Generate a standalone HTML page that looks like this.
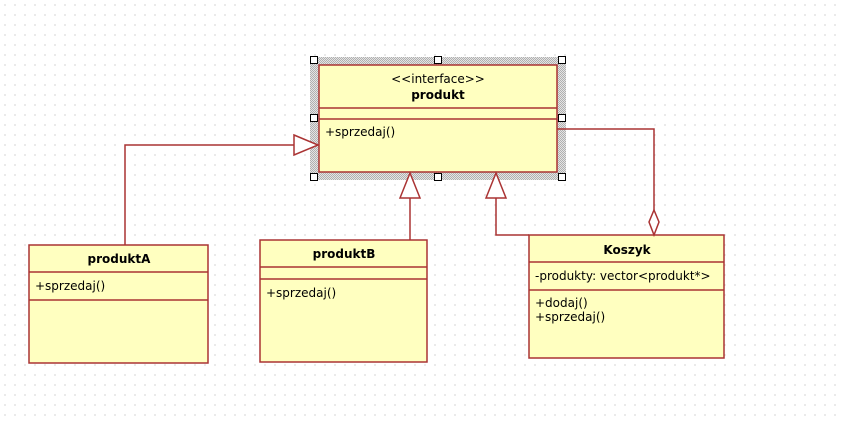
<!DOCTYPE html>
<html><head><style>
body{margin:0;width:841px;height:422px;overflow:hidden;background:#fff;
background-image:radial-gradient(circle,#b8b8b8 0.7px,transparent 0.8px);background-size:10px 10px;background-position:0 0;}
svg{position:absolute;left:0;top:0}
text{font-family:Tahoma,"DejaVu Sans","Liberation Sans",sans-serif;font-size:12px;fill:#000}
.b{font-weight:bold}
</style></head><body>
<svg width="841" height="422">
<defs><pattern id="h" width="2" height="2" patternUnits="userSpaceOnUse"><rect width="2" height="2" fill="#e4e4e4"/><rect width="1" height="1" fill="#b0b0b0"/><rect x="1" y="1" width="1" height="1" fill="#b0b0b0"/></pattern></defs>
<rect x="310" y="57" width="256" height="123" fill="url(#h)"/>
<g fill="#ffffc0" stroke="#a33" stroke-width="1.5">
<rect x="319" y="65" width="238" height="107"/>
<rect x="29" y="245" width="179" height="118"/>
<rect x="260" y="240" width="167" height="122"/>
<rect x="529" y="235" width="195" height="123"/>
</g>
<g stroke="#a33" stroke-width="1.5" fill="none">
<line x1="319" y1="108" x2="557" y2="108"/><line x1="319" y1="119" x2="557" y2="119"/>
<line x1="29" y1="272" x2="208" y2="272"/><line x1="29" y1="300" x2="208" y2="300"/>
<line x1="260" y1="267" x2="427" y2="267"/><line x1="260" y1="279" x2="427" y2="279"/>
<line x1="529" y1="262" x2="724" y2="262"/><line x1="529" y1="290" x2="724" y2="290"/>
<polyline points="125,245 125,145 294,145"/>
<polygon points="294,135 318,145 294,155" fill="#fff"/>
<line x1="410" y1="240" x2="410" y2="198"/>
<polygon points="400,198 410,173 420,198" fill="#fff"/>
<polyline points="529,235 496,235 496,198"/>
<polygon points="486,198 496,173 506,198" fill="#fff"/>
<polyline points="557,129 654,129 654,210"/>
<polygon points="654,210 659,222 654,235 649,222" fill="#fff"/>
</g>
<g fill="#fff" stroke="#000" stroke-width="1">
<rect x="310.5" y="56.5" width="7" height="7"/><rect x="434.5" y="56.5" width="7" height="7"/><rect x="558.5" y="56.5" width="7" height="7"/>
<rect x="310.5" y="114.5" width="7" height="7"/><rect x="558.5" y="114.5" width="7" height="7"/>
<rect x="310.5" y="173.5" width="7" height="7"/><rect x="434.5" y="173.5" width="7" height="7"/><rect x="558.5" y="173.5" width="7" height="7"/>
</g>
<text x="438" y="83" text-anchor="middle">&lt;&lt;interface&gt;&gt;</text>
<text x="438" y="99" text-anchor="middle" class="b">produkt</text>
<text x="325" y="136">+sprzedaj()</text>
<text x="119" y="263" text-anchor="middle" class="b">produktA</text>
<text x="35" y="290">+sprzedaj()</text>
<text x="344" y="258" text-anchor="middle" class="b">produktB</text>
<text x="266" y="297">+sprzedaj()</text>
<text x="627" y="254" text-anchor="middle" class="b">Koszyk</text>
<text x="535" y="280">-produkty: vector&lt;produkt*&gt;</text>
<text x="535" y="307">+dodaj()</text>
<text x="535" y="321">+sprzedaj()</text>
</svg>
</body></html>
